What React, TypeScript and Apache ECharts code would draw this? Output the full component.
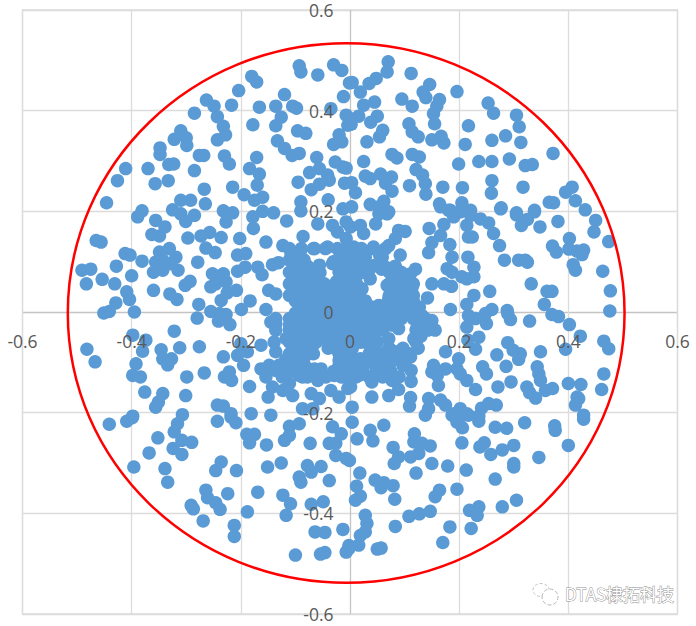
import React, { useEffect, useRef } from "react";
import * as echarts from "echarts";

const axisTicks = { min: -0.6, max: 0.6, step: 0.2 };
const ringValues = [[-0.007, -0.002, 0.51, 0.536]];
const watermarkText = "DTAS棣拓科技";

const upperLeftOuter = [
[-0.093,0.489],[-0.090,0.477],[-0.059,0.471],[-0.030,0.491],[-0.015,0.480],[-0.180,0.468],[-0.171,0.457],[-0.204,0.440],[-0.120,0.432],[-0.263,0.421],[-0.249,0.409],[-0.217,0.411],[-0.285,0.395],[-0.243,0.388],[-0.232,0.369],[-0.228,0.352],[-0.243,0.342],[-0.166,0.407],[-0.136,0.409],[-0.105,0.409],[-0.098,0.405],[-0.126,0.387],[-0.136,0.370],[-0.178,0.372],[-0.035,0.404],[-0.012,0.428],[-0.007,0.391],[-0.004,0.371],[-0.001,0.455],[-0.096,0.360],[-0.081,0.355],[-0.020,0.352],[-0.030,0.333],[-0.015,0.338],[-0.133,0.340],[-0.120,0.325],[-0.106,0.311],[-0.093,0.315],[-0.310,0.360],[-0.322,0.343],[-0.300,0.346],[-0.299,0.331],[-0.348,0.326],[-0.348,0.313],[-0.332,0.293],[-0.323,0.294],[-0.276,0.311],[-0.268,0.311],[-0.230,0.310],[-0.221,0.294],[-0.171,0.307],[-0.184,0.285],[-0.166,0.274],[-0.285,0.281],[-0.370,0.285],[-0.411,0.285],[-0.426,0.261],[-0.357,0.255],[-0.333,0.261],[-0.267,0.244],[-0.215,0.248],[-0.194,0.233],[-0.170,0.252],[-0.160,0.228],[-0.175,0.222],[-0.446,0.217],[-0.381,0.201],[-0.310,0.222],[-0.292,0.222],[-0.265,0.215],[-0.325,0.203],[-0.232,0.201],[-0.215,0.197],[-0.160,0.200],[-0.140,0.197],[-0.090,0.219],[-0.095,0.258],[-0.071,0.243],[-0.056,0.254],[-0.061,0.307],[-0.074,0.277],[-0.056,0.285],[-0.041,0.272],[-0.027,0.298],[-0.013,0.288],[-0.038,0.262],[-0.010,0.256],[-0.040,0.223],[-0.013,0.205],[-0.090,0.201],
];

const upperRightOuter = [
[0.070,0.497],[0.068,0.477],[0.112,0.474],[0.004,0.456],[0.048,0.464],[0.035,0.454],[0.019,0.437],[0.146,0.452],[0.134,0.437],[0.139,0.426],[0.196,0.438],[0.095,0.423],[0.114,0.409],[0.164,0.422],[0.159,0.409],[0.153,0.394],[0.155,0.374],[0.045,0.417],[0.025,0.411],[0.016,0.389],[0.001,0.384],[0.002,0.373],[0.050,0.389],[0.038,0.377],[0.060,0.361],[0.054,0.348],[0.031,0.338],[0.108,0.374],[0.114,0.358],[0.125,0.348],[0.150,0.342],[0.167,0.349],[0.172,0.336],[0.217,0.370],[0.253,0.415],[0.263,0.395],[0.305,0.391],[0.310,0.368],[0.313,0.337],[0.285,0.350],[0.260,0.341],[0.211,0.333],[0.077,0.313],[0.086,0.306],[0.114,0.313],[0.127,0.308],[0.025,0.299],[-0.007,0.286],[0.199,0.294],[0.236,0.299],[0.260,0.299],[0.292,0.304],[0.321,0.291],[0.334,0.293],[0.372,0.315],[0.121,0.283],[0.133,0.272],[0.138,0.255],[0.139,0.234],[0.109,0.251],[0.170,0.248],[0.206,0.247],[0.260,0.261],[0.259,0.236],[0.317,0.248],[0.395,0.238],[0.407,0.248],[0.365,0.218],[0.373,0.217],[0.413,0.221],[0.431,0.203],[0.028,0.270],[0.037,0.265],[0.056,0.274],[0.076,0.268],[0.065,0.256],[0.077,0.240],[0.003,0.257],[0.010,0.237],[0.003,0.209],[0.037,0.214],[0.062,0.220],[0.053,0.209],[0.071,0.199],[0.164,0.215],[0.184,0.202],[0.205,0.217],[0.221,0.202],[0.277,0.207],[0.305,0.197],[0.338,0.202],
];

const middleLeft = [
[-0.389,0.189],[-0.356,0.182],[-0.339,0.169],[-0.363,0.154],[-0.349,0.151],[-0.301,0.180],[-0.285,0.192],[-0.310,0.195],[-0.297,0.147],[-0.273,0.151],[-0.257,0.158],[-0.236,0.148],[-0.227,0.179],[-0.202,0.146],[-0.178,0.189],[-0.177,0.166],[-0.154,0.139],[-0.116,0.181],[-0.086,0.150],[-0.059,0.175],[-0.123,0.132],[-0.264,0.127],[-0.247,0.118],[-0.206,0.113],[-0.191,0.116],[-0.465,0.142],[-0.456,0.139],[-0.412,0.116],[-0.403,0.113],[-0.381,0.101],[-0.428,0.091],[-0.491,0.083],[-0.475,0.085],[-0.400,0.072],[-0.454,0.065],[-0.431,0.056],[-0.483,0.056],[-0.409,0.040],[-0.404,0.025],[-0.429,0.018],[-0.441,0.001],[-0.451,-0.002],[-0.395,0],[-0.360,0.043],[-0.330,0.036],[-0.317,0.025],[-0.302,0.053],[-0.293,0.061],[-0.349,0.119],[-0.331,0.126],[-0.319,0.109],[-0.343,0.103],[-0.356,0.099],[-0.360,0.079],[-0.343,0.083],[-0.328,0.096],[-0.315,0.083],[-0.279,0.099],[-0.252,0.076],[-0.232,0.076],[-0.246,0.056],[-0.255,0.050],[-0.227,0.060],[-0.208,0.043],[-0.236,0.023],[-0.225,0.038],[-0.206,0.081],[-0.192,0.089],[-0.169,0.089],[-0.161,0.074],[-0.142,0.094],[-0.131,0.098],[-0.149,0.043],[-0.136,0.036],[-0.183,0.022],[-0.199,0.005],[-0.277,0.015],[-0.280,-0.012],[-0.255,0.001],[-0.239,-0.003],[-0.227,-0.005],[-0.241,-0.018],[-0.220,-0.025],[-0.154,0.005],[-0.145,-0.020],[-0.322,-0.038],[-0.398,-0.046],[-0.374,-0.056],[-0.380,-0.078],[-0.482,-0.074],[-0.467,-0.099],[-0.346,-0.075],[-0.312,-0.071],[-0.276,-0.069],[-0.327,-0.093],[-0.343,-0.093],[-0.334,-0.105],[-0.392,-0.103],[-0.398,-0.126],[-0.384,-0.129],[-0.299,-0.129],[-0.267,-0.121],[-0.232,-0.089],[-0.200,-0.063],[-0.188,-0.079],[-0.206,-0.086],[-0.195,-0.106],[-0.221,-0.119],[-0.230,-0.129],[-0.217,-0.136],[-0.184,-0.148],[-0.376,-0.159],[-0.343,-0.162],[-0.301,-0.166],[-0.351,-0.179],[-0.356,-0.189],[-0.243,-0.185],[-0.232,-0.187],[-0.218,-0.202],[-0.181,-0.202],[-0.150,-0.169],[-0.145,-0.205],[-0.398,-0.207],[-0.307,-0.204],
];

const centerLeft = [
[-0.136,-0.023],[-0.111,-0.026],[-0.087,-0.025],[-0.062,-0.026],[-0.105,-0.043],[-0.081,-0.050],[-0.056,-0.053],[-0.032,-0.050],[-0.163,-0.066],[-0.139,-0.060],[-0.117,-0.053],[-0.136,-0.079],[-0.163,-0.113],[-0.148,-0.106],[-0.136,-0.116],[-0.120,-0.129],[-0.154,-0.129],[-0.142,-0.149],[-0.123,-0.156],[-0.099,-0.099],[-0.081,-0.086],[-0.068,-0.066],[-0.084,-0.113],[-0.065,-0.113],[-0.053,-0.113],[-0.059,-0.136],[-0.078,-0.129],[-0.093,-0.126],[-0.029,-0.126],[-0.010,-0.129],[-0.105,-0.166],[-0.071,-0.162],[-0.035,-0.156],[-0.056,-0.172],[-0.020,-0.169],[-0.004,-0.152],[-0.087,-0.192],[-0.068,-0.192],[-0.111,-0.142],
[-0.108,0.116],[-0.102,0.096],[-0.090,0.123],[-0.065,0.126],[-0.041,0.129],[-0.020,0.123],[-0.004,0.129],[-0.084,0.103],[-0.099,0.070],[-0.078,0.083],[-0.056,0.093],[-0.032,0.096],[-0.010,0.093],[-0.004,0.070],[-0.093,0.046],[-0.068,0.063],[-0.047,0.056],[-0.096,0.020],[-0.081,0.007],[-0.068,0.026],[-0.050,0.036],[-0.032,0.043],[-0.013,0.050],[-0.053,0.010],[-0.032,0.013],[-0.007,0.020],[-0.023,-0.013],[-0.041,-0.013],[-0.004,-0.013],[-0.016,-0.033],[-0.023,0.159],[-0.007,0.146],[-0.032,0.172],[-0.007,0.179],[-0.026,-0.073],[-0.007,-0.073],[-0.020,-0.096],
];

const middleRight = [
[0.450,0.182],[0.447,0.159],[0.474,0.140],[0.402,0.146],[0.371,0.131],[0.378,0.119],[0.401,0.125],[0.416,0.121],[0.428,0.123],[0.425,0.114],[0.409,0.094],[0.413,0.083],[0.463,0.081],[0.477,0.042],[0.476,0.002],[0.381,0.180],[0.348,0.169],[0.338,0.199],[0.325,0.184],[0.314,0.172],[0.305,0.193],[0.276,0.205],[0.254,0.177],[0.263,0.156],[0.274,0.132],[0.283,0.103],[0.309,0.103],[0.321,0.103],[0.325,0.099],[0.332,0.056],[0.361,0.041],[0.370,0.041],[0.356,0.015],[0.370,-0.005],[0.382,-0.009],[0.402,-0.025],[0.422,-0.048],[0.395,-0.074],[0.465,-0.058],[0.474,-0.073],[0.465,-0.123],[0.461,-0.154],[0.400,-0.142],[0.423,-0.144],[0.416,-0.169],[0.413,-0.185],[0.419,-0.172],[0.428,-0.205],[0.349,-0.079],[0.371,-0.152],[0.358,-0.156],[0.349,-0.136],[0.343,-0.109],[0.346,-0.123],[0.340,-0.171],[0.324,-0.149],[0.329,-0.160],[0.329,-0.018],[0.289,-0.003],[0.294,-0.015],[0.288,0.003],[0.289,-0.061],[0.299,-0.076],[0.312,-0.083],[0.309,-0.094],[0.269,-0.085],[0.286,-0.108],[0.243,-0.109],[0.250,-0.123],[0.295,-0.139],[0.271,-0.149],[0.256,0.041],[0.227,0.033],[0.214,0.015],[0.260,0.005],[0.248,-0.003],[0.250,-0.023],[0.217,-0.007],[0.230,-0.013],[0.214,-0.030],[0.236,-0.050],[0.230,-0.074],[0.216,-0.056],[0.254,-0.182],[0.268,-0.185],[0.241,-0.191],[0.230,-0.154],[0.214,-0.136],[0.202,-0.123],
];

const centerRight = [
[0.199,-0.093],[0.196,-0.113],[0.175,-0.079],[0.153,-0.106],[0.150,-0.119],[0.162,-0.146],[0.175,-0.113],[0.160,-0.126],[0.112,-0.116],[0.112,-0.138],[0.040,-0.169],[0.071,-0.166],[0.089,-0.154],[0.077,-0.136],[0.111,-0.170],[0.109,-0.187],[0.144,-0.172],[0.166,-0.175],[0.175,-0.185],[0.144,-0.192],[0.202,-0.192],[0.190,-0.202],[0.214,-0.202],[0.004,-0.189],[0.236,-0.207],
[0.145,0.166],[0.172,0.174],[0.166,0.152],[0.150,0.138],[0.144,0.118],[0.183,0.134],[0.187,0.109],[0.178,0.086],[0.187,0.079],[0.216,0.109],[0.227,0.089],[0.227,0.070],[0.205,0.070],[0.214,0.066],[0.150,0.056],[0.142,0.028],[0.172,0.056],[0.186,0.051],[0.184,0.005],[0.120,0.085],[0.111,0.076],[0.092,0.113],[0.101,0.160],[0.089,0.162],[0.083,0.146],[0.071,0.132],[0.217,0.149],[0.224,0.149],[0.214,0.172],[0.239,0.185],[0.221,0.192],[0.202,0.199],[0.190,0.189],[0.181,0.202],[0.166,0.209],
[0.053,0.195],[0.068,0.195],[0.047,0.175],[0.019,0.172],[0.025,0.156],[0.001,0.169],[0.007,0.129],[0.043,0.129],[0.059,0.109],[0.028,0.109],[0.065,0.089],[0.001,0.113],[0.083,0.070],[0.114,0.050],[0.098,0.063],[0.068,0.053],[0.071,0.026],[0.089,0.036],[0.117,0.013],[0.132,-0.007],[0.150,-0.017],[0.156,-0.036],[0.138,-0.030],[0.117,-0.053],[0.123,-0.030],[0.095,-0.007],[0.089,-0.033],[0.071,-0.053],[0.101,-0.086],[0.111,-0.089],[0.083,-0.079],[0.050,-0.096],[0.065,-0.099],[0.019,-0.093],[0.007,-0.099],[0.059,-0.119],[0.040,-0.139],[0.001,-0.149],[0.016,-0.126],
[0.022,0.099],[0.046,0.093],[0.016,0.076],[0.037,0.066],[0.004,0.053],[0.022,0.046],[0.028,0.020],[0.053,0.013],[0.004,0.020],[0.074,-0.007],[0.053,-0.013],[0.028,-0.010],[0.004,-0.007],[0.010,-0.033],[0.034,-0.036],[0.059,-0.033],[0.077,-0.026],[0.019,-0.060],[0.046,-0.063],[0.071,-0.073],[0.004,-0.073],[0.092,0.013],
];

const centerCore = [
[-0.111,0.126],[-0.089,0.126],[-0.067,0.126],[-0.045,0.126],[-0.023,0.126],[-0.001,0.126],[0.021,0.126],[0.043,0.126],[0.065,0.126],
[-0.111,0.103],[-0.089,0.103],[-0.023,0.103],[-0.001,0.103],[0.021,0.103],[0.057,0.103],
[-0.111,0.079],[-0.089,0.079],[-0.067,0.079],[-0.001,0.079],[0.021,0.079],[0.072,0.079],[0.094,0.079],
[-0.111,0.056],[-0.089,0.056],[-0.067,0.056],[-0.010,0.056],[0.012,0.056],[0.072,0.056],[0.094,0.056],[0.116,0.056],
[-0.111,0.033],[-0.089,0.033],[-0.056,0.033],[-0.032,0.033],[-0.007,0.033],[0.017,0.033],[0.072,0.033],[0.094,0.033],[0.116,0.033],
[-0.093,0.010],[-0.071,0.010],[-0.049,0.010],[-0.027,0.010],[-0.005,0.010],[0.017,0.010],[0.039,0.010],[0.061,0.010],[0.083,0.010],[0.105,0.010],[0.127,0.010],
[-0.136,-0.013],[-0.111,-0.013],[-0.087,-0.013],[-0.062,-0.013],[-0.038,-0.013],[-0.016,-0.013],[0.006,-0.013],[0.028,-0.013],[0.050,-0.013],[0.072,-0.013],[0.094,-0.013],[0.116,-0.013],[0.138,-0.013],
[-0.136,-0.036],[-0.111,-0.036],[-0.087,-0.036],[-0.062,-0.036],[-0.038,-0.036],[-0.016,-0.036],[0.006,-0.036],[0.028,-0.036],[0.050,-0.036],[0.060,-0.036],[0.121,-0.036],[0.143,-0.036],
[-0.111,-0.060],[-0.087,-0.060],[-0.062,-0.060],[-0.038,-0.060],[-0.016,-0.060],[0.006,-0.060],[0.028,-0.060],[0.050,-0.060],[0.121,-0.060],
[-0.111,-0.083],[-0.089,-0.083],[-0.067,-0.083],[-0.020,-0.083],[-0.001,-0.083],[0.035,-0.083],[0.060,-0.083],[0.084,-0.083],[0.109,-0.083],
[-0.130,-0.106],[-0.104,-0.106],[-0.083,-0.106],[-0.020,-0.106],[0.002,-0.106],[0.024,-0.106],[0.046,-0.106],[0.068,-0.106],[0.097,-0.106],
[-0.124,-0.129],[-0.087,-0.129],[-0.044,-0.129],[-0.016,-0.129],[0.011,-0.129],[0.035,-0.129],[0.060,-0.129],[0.090,-0.129],
];

const centerCoreBetween = [
[-0.100,0.114],[-0.012,0.114],[0.010,0.114],[0.054,0.114],
[-0.100,0.091],[-0.078,0.091],[-0.012,0.091],[0.010,0.091],[0.083,0.091],
[-0.100,0.068],[-0.078,0.068],[-0.012,0.068],[0.010,0.068],[0.083,0.068],[0.105,0.068],
[-0.100,0.045],[-0.078,0.045],[-0.056,0.045],[-0.021,0.045],[0.003,0.045],[0.083,0.045],[0.105,0.045],
[-0.100,0.022],[-0.078,0.022],[-0.045,0.022],[-0.016,0.022],[0.006,0.022],[0.028,0.022],[0.072,0.022],[0.094,0.022],[0.116,0.022],
[-0.100,-0.002],[-0.078,-0.002],[-0.056,-0.002],[-0.034,-0.002],[-0.012,-0.002],[0.010,-0.002],[0.032,-0.002],[0.054,-0.002],[0.076,-0.002],[0.098,-0.002],[0.120,-0.002],
[-0.100,-0.025],[-0.075,-0.025],[-0.050,-0.025],[-0.027,-0.025],[-0.005,-0.025],[0.017,-0.025],[0.039,-0.025],[0.055,-0.025],[0.132,-0.025],
[-0.100,-0.048],[-0.075,-0.048],[-0.050,-0.048],[-0.027,-0.048],[-0.005,-0.048],[0.017,-0.048],[0.039,-0.048],[0.130,-0.048],
[-0.100,-0.072],[-0.078,-0.072],[-0.040,-0.072],[0.040,-0.072],[0.072,-0.072],[0.097,-0.072],[0.125,-0.072],
[-0.118,-0.095],[-0.094,-0.095],[-0.012,-0.095],[0.013,-0.095],[0.035,-0.095],[0.057,-0.095],[0.080,-0.095],[0.103,-0.095],
[-0.110,-0.118],[-0.030,-0.118],[0.000,-0.118],[0.024,-0.118],[0.048,-0.118],[0.075,-0.118],
[-0.020,0.079],[-0.030,0.100],[-0.055,0.078],[-0.025,0.060],[0.036,0.085],[0.058,0.085],
];

const lowerLeft = [
[-0.441,-0.223],[-0.409,-0.217],[-0.399,-0.210],[-0.352,-0.250],[-0.368,-0.280],[-0.396,-0.308],[-0.339,-0.311],[-0.334,-0.338],[-0.316,-0.222],[-0.322,-0.238],[-0.308,-0.255],[-0.290,-0.259],[-0.324,-0.271],[-0.308,-0.283],[-0.243,-0.217],[-0.218,-0.209],[-0.209,-0.220],[-0.189,-0.243],[-0.175,-0.243],[-0.184,-0.260],[-0.153,-0.264],[-0.111,-0.227],[-0.093,-0.222],[-0.111,-0.245],[-0.120,-0.255],[-0.073,-0.261],[-0.038,-0.261],[-0.032,-0.228],[-0.016,-0.242],[-0.026,-0.261],[-0.026,-0.285],[-0.007,-0.291],[-0.236,-0.298],[-0.246,-0.315],[-0.208,-0.315],[-0.151,-0.308],[-0.126,-0.300],[-0.078,-0.305],[-0.053,-0.307],[-0.071,-0.318],[-0.093,-0.328],[-0.090,-0.338],[-0.038,-0.335],[-0.264,-0.354],[-0.261,-0.369],[-0.246,-0.379],[-0.238,-0.392],[-0.224,-0.361],[-0.291,-0.384],[-0.287,-0.391],[-0.269,-0.415],[-0.212,-0.424],[-0.212,-0.446],[-0.188,-0.397],[-0.169,-0.358],[-0.123,-0.364],[-0.109,-0.381],[-0.117,-0.404],[-0.071,-0.382],[-0.049,-0.377],[-0.064,-0.437],[-0.046,-0.438],[-0.013,-0.432],[-0.100,-0.483],[-0.054,-0.481],[-0.046,-0.478],[-0.007,-0.477],[-0.002,-0.464],
];

const lowerRight = [
[0.004,-0.219],[0.037,-0.235],[0.062,-0.225],[0.013,-0.252],[0.042,-0.256],[0.079,-0.269],[0.118,-0.242],[0.117,-0.258],[0.132,-0.261],[0.147,-0.266],[0.126,-0.281],[0.111,-0.288],[0.089,-0.288],[0.081,-0.301],[-0.001,-0.295],[0.018,-0.320],[0.121,-0.320],[0.150,-0.301],[0.179,-0.306],[0.213,-0.314],[0.205,-0.260],[0.138,-0.205],[0.187,-0.205],[0.202,-0.209],[0.196,-0.219],[0.206,-0.230],[0.217,-0.205],[0.236,-0.217],[0.266,-0.229],[0.287,-0.231],[0.320,-0.220],[0.375,-0.226],[0.376,-0.235],[0.428,-0.213],[0.400,-0.265],[0.346,-0.289],[0.300,-0.265],[0.300,-0.308],[0.300,-0.301],[0.279,-0.274],[0.258,-0.283],[0.238,-0.268],[0.246,-0.260],[0.266,-0.332],[0.196,-0.352],[0.164,-0.354],[0.156,-0.367],[0.082,-0.372],[0.046,-0.334],[0.062,-0.339],[0.079,-0.345],[0.057,-0.349],[0.012,-0.346],[0.019,-0.366],[0.010,-0.374],[0.028,-0.404],[0.031,-0.420],[0.028,-0.437],[0.019,-0.444],[0.016,-0.463],[-0.002,-0.470],[0.050,-0.471],[0.057,-0.469],[0.083,-0.426],[0.108,-0.406],[0.127,-0.401],[0.147,-0.396],[0.305,-0.374],[0.279,-0.387],[0.236,-0.387],[0.219,-0.394],[0.233,-0.404],[0.183,-0.427],[0.222,-0.430],[0.170,-0.458],
];

const allPoints = [
  ...upperLeftOuter, ...upperRightOuter, ...middleLeft, ...centerLeft,
  ...middleRight, ...centerRight, ...centerCore, ...centerCoreBetween, ...lowerLeft, ...lowerRight,
];

const labelFont = { fontFamily: "Open Sans", fontSize: 17.5, color: "#595959" };
const G = "#DCDCDC";
const lineColors = [G, G, G, "#C4C4C4", G, G, G];

export default function App() {
  const ref = useRef<HTMLDivElement>(null);
  useEffect(() => {
    document.body.style.margin = "0";
    const chart = echarts.init(ref.current!, null, { renderer: "svg" });
    const base = { type: "value", min: axisTicks.min, max: axisTicks.max, interval: axisTicks.step };
    chart.setOption({
      animation: false,
      backgroundColor: "#fff",
      grid: { left: 22.5, top: 10, width: 655, height: 604, show: true, borderColor: G, borderWidth: 1.3, containLabel: false, outerBoundsMode: "none" },
      xAxis: [
        { ...base, position: "bottom", offset: -302.3, z: 5, axisLine: { show: false, onZero: false }, axisTick: { show: false }, axisLabel: { ...labelFont, margin: 20, showMinLabel: true, showMaxLabel: true }, splitLine: { show: false } },
        { ...base, position: "bottom", z: 0, axisLine: { show: false, onZero: false }, axisTick: { show: false }, axisLabel: { show: false }, splitLine: { show: true, lineStyle: { color: lineColors, width: 1.3 } } },
      ],
      yAxis: [
        { ...base, position: "left", offset: -328.1, z: 5, axisLine: { show: false, onZero: false }, axisTick: { show: false }, axisLabel: { ...labelFont, margin: 17, showMinLabel: true, showMaxLabel: true }, splitLine: { show: false } },
        { ...base, position: "left", z: 0, axisLine: { show: false, onZero: false }, axisTick: { show: false }, axisLabel: { show: false }, splitLine: { show: true, lineStyle: { color: lineColors, width: 1.3 } } },
      ],
      series: [
        { type: "scatter", xAxisIndex: 0, yAxisIndex: 0, data: allPoints, symbolSize: 13.5, itemStyle: { color: "#5B9BD5", opacity: 1 }, silent: true, z: 2 },
        {
          type: "custom", xAxisIndex: 0, yAxisIndex: 0, data: ringValues, encode: { x: 0, y: 1 }, clip: false, silent: true, z: 3,
          renderItem: (_p: any, api: any) => {
            const c = api.coord([api.value(0), api.value(1)]);
            const s = api.size([api.value(2), api.value(3)]);
            return { type: "ellipse", shape: { cx: c[0], cy: c[1], rx: s[0], ry: s[1] }, style: { fill: "none", stroke: "#FF0000", lineWidth: 2.5 } };
          },
        },
      ],
      graphic: [
        { type: "ellipse", z: 10, shape: { cx: 541, cy: 590, rx: 8, ry: 6.5 }, style: { fill: "#fff", stroke: "#c4c4c4", lineWidth: 1, lineDash: [3, 2] } },
        { type: "ellipse", z: 11, shape: { cx: 550, cy: 597, rx: 8, ry: 8 }, style: { fill: "#fff", stroke: "#b8b8b8", lineWidth: 1, lineDash: [4, 2] } },
        { type: "text", z: 12, x: 565, y: 585, style: { text: watermarkText, font: "17px 'Noto Sans CJK SC'", fill: "#fff", stroke: "#8f8f8f", lineWidth: 0.9 } },
      ],
    });
    return () => chart.dispose();
  }, []);
  return <div ref={ref} style={{ position: "absolute", left: 0, top: 0, width: 696, height: 626 }} />;
}
